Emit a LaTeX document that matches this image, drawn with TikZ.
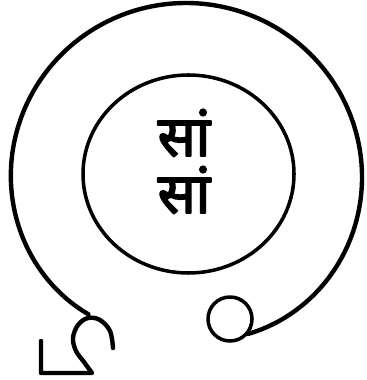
\documentclass[tikz,border=0pt]{standalone}
\usepackage{fontspec}
\newfontfamily\devfont[Script=Devanagari, FakeBold=3]{Noto Sans}
\begin{document}
\begin{tikzpicture}[x=0.01cm, y=-0.01cm, line join=round, line cap=round,
    declare function={uu(\t)=(\t-83)/151; rr(\t)=177-11*uu(\t)*uu(\t)*uu(\t)*uu(\t);}]
    \useasboundingbox (0,0) rectangle (366,380);
    \def\lw{1.25pt} % outer line
    \def\lv{1pt}    % inner line
    % ============= outer spiral
    \draw[line width=\lw] plot[domain=-68:234, samples=120, smooth]
        ({186+rr(\x)*cos(\x)}, {180-rr(\x)*sin(\x)});
    % ============= small loop, right end
    \draw[line width=\lv] (230,319) circle (22);
    % ============= hook, left end
    \draw[line width=\lw] plot[smooth, tension=0.6] coordinates {
        (113,348) (110,331) (100,320) (88,318) (78,325) (73,338) (76,351) (84,362) (92,373)}
        -- (41,373) -- (41,341);
    % ============= inner circle
    \draw[line width=\lv] (188.5,174) ellipse (105.5 and 99);
    % ============= labels
    \foreach \n/\y in {sa/133, sb/190}{
        \node[font=\devfont\fontsize{16}{16}\selectfont, inner sep=0pt] (\n) at (184,\y) {सां};}
\end{tikzpicture}
\end{document}
